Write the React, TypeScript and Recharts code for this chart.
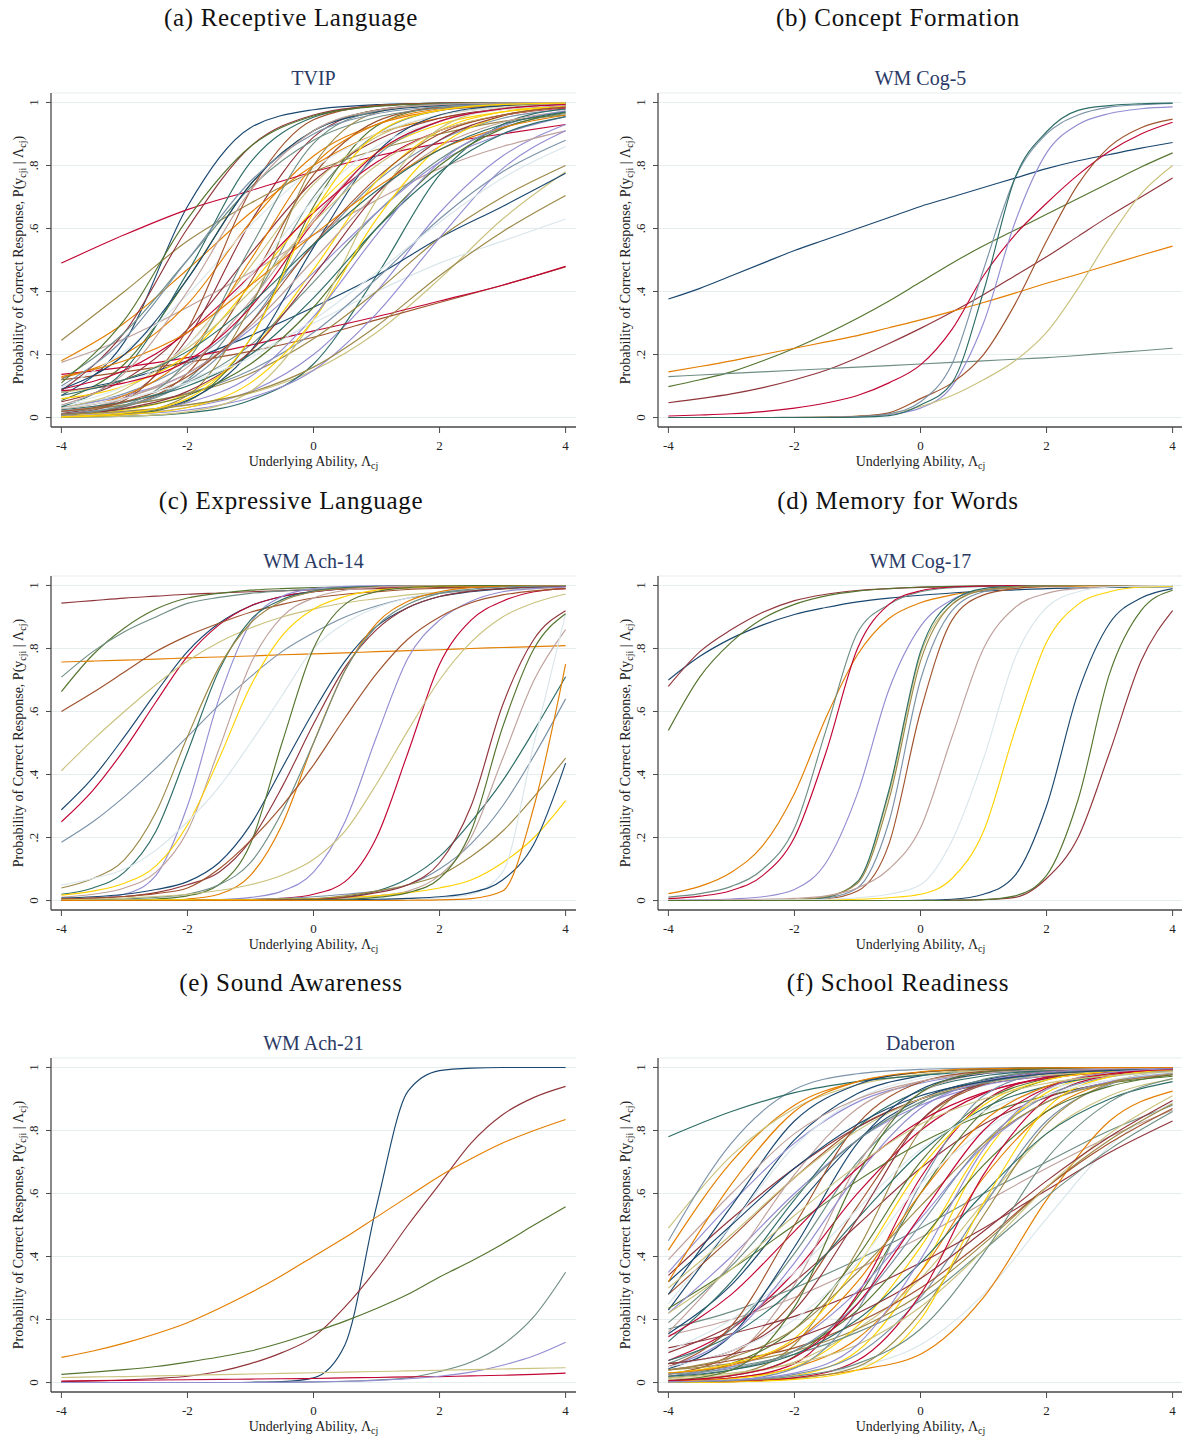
import React from "react";
import { CartesianGrid, Line, LineChart, XAxis, YAxis } from "recharts";

// ability grid the curves were read at
const GRID_UNIT = [-4, -3, -2, -1, 0, 1, 2, 3, 4];
const GRID_HALF = [-4, -3.5, -3, -2.5, -2, -1.5, -1, -0.5, 0, 0.5, 1, 1.5, 2, 2.5, 3, 3.5, 4];
const X_TICKS = [-4, -2, 0, 2, 4];
const Y_TICKS = [0, 0.2, 0.4, 0.6, 0.8, 1];

// stata s2color cycle, items take colours in order
const PALETTE = [
  "#1a476f", "#90353b", "#55752f", "#e37e00", "#6e8e84",
  "#c10534", "#938dd2", "#cac27e", "#a0522d", "#7b92a8",
  "#2d6d66", "#9c8847", "#bfa19c", "#ffd200", "#d9e6eb",
];

// (a) TVIP, read at GRID_UNIT
const tvipItems = [
  [.07, .24, .67, .92, .977, .993, .998, 1, 1],
  [.013, .063, .25, .62, .89, .976, .994, .998, 1],
  [.054, .17, .44, .74, .91, .975, .99, .997, .999],
  [.18, .3, .47, .65, .8, .9, .95, .978, .99],
  [.008, .034, .12, .36, .7, .9, .974, .99, .997],
  [.49, .58, .66, .72, .78, .83, .87, .9, .93],
  [.005, .012, .032, .083, .2, .4, .65, .83, .93],
  [.008, .018, .039, .077, .15, .27, .44, .63, .78],
  [.12, .145, .175, .21, .255, .31, .365, .42, .478],
  [.032, .076, .17, .33, .545, .75, .88, .95, .978],
  [.001, .004, .015, .055, .17, .45, .77, .93, .98],
  [.245, .4, .56, .68, .78, .85, .9, .94, .96],
  [.175, .25, .35, .46, .58, .69, .79, .86, .91],
  [.007, .024, .076, .21, .47, .75, .91, .97, .99],
  [.04, .07, .12, .2, .3, .4, .49, .56, .63],
  [.08, .12, .18, .26, .35, .45, .57, .67, .775],
  [.05, .12, .28, .52, .75, .88, .95, .98, .99],
  [.002, .009, .052, .25, .67, .925, .986, .997, .999],
  [.125, .2, .36, .62, .83, .93, .975, .99, .996],
  [.02, .047, .11, .23, .43, .65, .82, .92, .965],
  [.137, .16, .19, .23, .275, .32, .37, .42, .48],
  [.032, .07, .14, .28, .46, .65, .81, .9, .955],
  [.03, .09, .23, .48, .74, .89, .96, .985, .995],
  [.008, .036, .14, .43, .77, .94, .985, .996, .999],
  [.018, .039, .077, .15, .27, .44, .63, .78, .88],
  [.034, .15, .46, .81, .953, .99, .998, 1, 1],
  [.02, .04, .075, .14, .25, .4, .57, .7, .8],
  [.02, .06, .16, .37, .63, .84, .94, .979, .992],
  [.06, .1, .2, .42, .66, .84, .93, .97, .985],
  [.095, .21, .39, .61, .79, .9, .96, .985, .994],
  [.003, .013, .055, .21, .54, .84, .96, .99, .998],
  [.085, .27, .6, .86, .96, .99, .997, .999, 1],
  [.01, .027, .07, .17, .35, .6, .8, .917, .968],
  [.03, .07, .2, .5, .8, .93, .98, .994, .998],
  [.12, .27, .5, .73, .88, .953, .982, .993, .998],
  [.09, .15, .27, .45, .65, .81, .91, .96, .983],
  [.003, .009, .024, .063, .15, .33, .57, .79, .91],
  [.001, .004, .018, .083, .31, .69, .917, .982, .996],
  [.009, .055, .28, .72, .945, .99, .998, 1, 1],
  [.012, .038, .115, .3, .59, .83, .94, .98, .994],
  [.025, .05, .1, .2, .38, .6, .78, .9, .955],
  [.001, .01, .07, .35, .8, .968, .995, .999, 1],
  [.027, .063, .14, .29, .5, .71, .86, .937, .973],
  [.002, .009, .032, .11, .31, .63, .86, .957, .988],
  [.04, .1, .23, .45, .69, .86, .94, .977, .991],
  [.09, .2, .44, .74, .91, .97, .99, .997, .999],
  [.01, .029, .083, .21, .45, .71, .88, .957, .985],
  [.11, .31, .63, .86, .957, .987, .996, .999, 1],
  [.13, .18, .27, .42, .58, .73, .85, .92, .96],
  [.007, .039, .18, .54, .87, .973, .995, .999, 1],
  [.085, .11, .18, .35, .62, .84, .94, .98, .993],
  [.005, .016, .047, .13, .32, .58, .81, .925, .973],
  [.08, .12, .22, .4, .62, .8, .91, .96, .985],
  [.02, .05, .13, .3, .55, .76, .9, .96, .985],
  [.1, .25, .5, .75, .9, .964, .987, .995, .998],
  [.07, .12, .21, .36, .55, .72, .85, .93, .97],
  [.01, .02, .04, .08, .16, .29, .45, .59, .705],
  [.04, .14, .4, .72, .91, .975, .993, .998, 1],
  [.003, .014, .06, .25, .65, .9, .975, .994, .998],
  [.03, .06, .11, .19, .31, .46, .62, .76, .86],
];

// (b) WM Cog-5, read at GRID_HALF
const wmCog5Items = [
  [.376, .41, .45, .49, .53, .565, .6, .635, .67, .7, .73, .76, .79, .815, .835, .855, .873],
  [.047, .06, .075, .095, .12, .15, .19, .235, .283, .335, .39, .45, .51, .575, .64, .7, .76],
  [.098, .12, .145, .18, .22, .265, .315, .37, .43, .49, .545, .595, .645, .695, .745, .795, .84],
  [.145, .162, .18, .2, .22, .24, .26, .285, .31, .337, .365, .395, .426, .455, .485, .515, .544],
  [.13, .135, .14, .145, .15, .155, .16, .165, .17, .175, .18, .185, .19, .197, .205, .212, .22],
  [.005, .008, .012, .019, .03, .046, .07, .11, .167, .28, .45, .58, .68, .77, .845, .9, .937],
  [0, 0, 0, 0, .001, .002, .004, .01, .03, .1, .3, .62, .84, .93, .965, .98, .986],
  [0, 0, 0, 0, .001, .002, .005, .012, .035, .07, .12, .18, .27, .41, .57, .71, .8],
  [0, 0, 0, 0, 0, .001, .004, .015, .06, .11, .2, .36, .56, .74, .86, .92, .947],
  [0, 0, 0, 0, 0, .001, .003, .012, .05, .17, .47, .76, .9, .96, .985, .993, .997],
  [0, 0, 0, 0, 0, 0, .001, .006, .04, .11, .4, .76, .907, .975, .99, .996, .998],
];

// (c) WM Ach-14, read at GRID_HALF
const wmAch14Items = [
  [.288, .39, .52, .66, .79, .88, .935, .965, .98, .99, .994, .996, .998, .999, 1, 1, 1],
  [.944, .952, .96, .966, .972, .976, .98, .983, .986, .988, .99, .992, .993, .994, .995, .996, .997],
  [.663, .78, .865, .925, .96, .975, .985, .99, .993, .995, .997, .998, .999, 1, 1, 1, 1],
  [.757, .76, .763, .766, .77, .773, .776, .78, .783, .786, .79, .793, .796, .8, .803, .806, .809],
  [.709, .79, .853, .9, .943, .962, .975, .983, .988, .991, .994, .996, .997, .998, .999, .999, 1],
  [.25, .35, .48, .63, .775, .875, .935, .965, .98, .99, .994, .996, .998, .999, 1, 1, 1],
  [.004, .008, .02, .08, .3, .64, .88, .965, .99, .997, .999, 1, 1, 1, 1, 1, 1],
  [.412, .51, .6, .685, .76, .82, .865, .9, .925, .945, .958, .97, .978, .984, .988, .99, .992],
  [.6, .66, .725, .79, .84, .88, .915, .94, .96, .972, .98, .987, .991, .994, .996, .997, .998],
  [.185, .25, .33, .42, .52, .62, .71, .79, .85, .9, .935, .96, .975, .985, .99, .994, .996],
  [.02, .04, .09, .22, .47, .73, .89, .955, .982, .993, .997, .999, 1, 1, 1, 1, 1],
  [.04, .07, .13, .28, .52, .74, .88, .95, .98, .99, .996, .998, 1, 1, 1, 1, 1],
  [.01, .02, .04, .09, .22, .48, .75, .9, .96, .985, .994, .998, 1, 1, 1, 1, 1],
  [.017, .03, .055, .11, .24, .45, .68, .84, .925, .965, .985, .993, .997, .999, 1, 1, 1],
  [.049, .07, .1, .16, .25, .36, .5, .65, .8, .88, .93, .96, .98, .988, .993, .996, .998],
  [.008, .012, .02, .035, .06, .12, .24, .42, .6, .76, .87, .93, .965, .98, .99, .995, .997],
  [.005, .008, .013, .025, .05, .09, .19, .36, .56, .74, .86, .93, .965, .982, .99, .995, .997],
  [0, 0, .001, .005, .015, .05, .18, .5, .8, .94, .98, .993, .998, 1, 1, 1, 1],
  [0, 0, 0, .001, .005, .02, .08, .24, .5, .73, .88, .95, .98, .993, .997, .999, 1],
  [.002, .003, .005, .01, .02, .05, .12, .28, .5, .73, .87, .94, .975, .988, .995, .998, .999],
  [0, 0, 0, 0, 0, .001, .003, .007, .02, .06, .2, .47, .75, .89, .95, .98, .99],
  [0, 0, 0, 0, .001, .003, .01, .03, .09, .25, .52, .77, .89, .95, .98, .99, .995],
  [.003, .005, .008, .013, .02, .032, .05, .08, .13, .22, .37, .54, .7, .82, .9, .945, .973],
  [.005, .008, .013, .022, .04, .1, .19, .3, .43, .58, .72, .83, .9, .945, .97, .983, .99],
  [0, 0, 0, 0, .001, .002, .004, .007, .012, .02, .03, .05, .1, .18, .3, .46, .64],
  [0, 0, 0, .001, .001, .002, .003, .004, .006, .012, .03, .07, .14, .25, .38, .54, .71],
  [0, 0, .001, .001, .002, .002, .003, .004, .006, .015, .03, .05, .08, .14, .22, .33, .452],
  [0, 0, 0, 0, 0, 0, 0, .001, .003, .008, .015, .03, .08, .2, .45, .7, .86],
  [.001, .001, .001, .002, .002, .003, .003, .004, .005, .01, .015, .025, .04, .065, .12, .2, .317],
  [0, 0, 0, 0, 0, 0, 0, 0, 0, .001, .002, .005, .008, .02, .09, .5, .91],
  [0, 0, 0, 0, 0, 0, 0, 0, .001, .002, .004, .007, .012, .025, .065, .18, .436],
  [0, 0, 0, 0, 0, .001, .001, .002, .004, .01, .025, .05, .12, .3, .62, .83, .92],
  [0, 0, 0, 0, 0, 0, 0, .001, .002, .004, .01, .025, .07, .22, .55, .8, .91],
  [0, 0, 0, 0, 0, 0, 0, 0, 0, 0, 0, .001, .002, .006, .03, .3, .75],
];

// (d) WM Cog-17, read at GRID_HALF
const wmCog17Items = [
  [.7, .775, .832, .875, .908, .93, .948, .96, .969, .976, .982, .986, .99, .992, .994, .995, .996],
  [.68, .79, .86, .915, .952, .972, .984, .99, .994, .996, .998, .999, 1, 1, 1, 1, 1],
  [.54, .71, .82, .895, .94, .967, .982, .99, .995, .997, .999, 1, 1, 1, 1, 1, 1],
  [.022, .045, .09, .175, .34, .58, .78, .895, .945, .97, .984, .992, .996, .998, .999, 1, 1],
  [.011, .022, .045, .1, .23, .54, .85, .94, .98, .993, .997, .999, 1, 1, 1, 1, 1],
  [.006, .014, .032, .08, .2, .47, .8, .94, .983, .995, .998, 1, 1, 1, 1, 1, 1],
  [.001, .002, .005, .012, .035, .12, .34, .67, .87, .955, .985, .995, .998, 1, 1, 1, 1],
  [0, 0, 0, .001, .003, .012, .06, .34, .78, .94, .985, .995, .999, 1, 1, 1, 1],
  [0, 0, 0, 0, .001, .005, .03, .18, .6, .89, .97, .99, .998, 1, 1, 1, 1],
  [0, 0, 0, 0, .002, .008, .04, .25, .7, .92, .98, .995, .999, 1, 1, 1, 1],
  [0, 0, 0, 0, .002, .01, .06, .35, .79, .95, .99, .997, 1, 1, 1, 1, 1],
  [0, 0, 0, 0, .003, .012, .055, .32, .76, .94, .985, .996, .999, 1, 1, 1, 1],
  [.001, .001, .002, .004, .007, .015, .04, .1, .23, .52, .8, .93, .975, .99, .996, .998, .999],
  [0, 0, 0, 0, .001, .002, .004, .009, .02, .07, .22, .54, .82, .94, .98, .995, .998],
  [0, 0, 0, .001, .002, .004, .009, .02, .05, .19, .45, .77, .93, .98, .995, .998, 1],
  [0, 0, 0, 0, 0, 0, 0, 0, .001, .004, .02, .08, .3, .66, .88, .96, .99],
  [0, 0, 0, 0, 0, 0, 0, 0, 0, .001, .003, .01, .07, .2, .47, .76, .92],
  [0, 0, 0, 0, 0, 0, 0, 0, 0, .001, .003, .015, .08, .32, .72, .92, .985],
];

// (e) WM Ach-21, read at GRID_HALF
const wmAch21Items = [
  [0, 0, 0, 0, 0, 0, .001, .003, .015, .12, .56, .925, .99, .998, 1, 1, 1],
  [.003, .005, .008, .013, .02, .035, .06, .095, .145, .24, .36, .5, .63, .76, .85, .905, .94],
  [.026, .033, .041, .051, .065, .081, .1, .127, .16, .195, .235, .28, .335, .385, .44, .5, .558],
  [.08, .1, .125, .155, .19, .235, .285, .34, .4, .46, .525, .59, .655, .71, .76, .8, .835],
  [0, 0, 0, 0, 0, 0, 0, .001, .002, .004, .008, .015, .035, .065, .12, .21, .35],
  [.005, .006, .007, .008, .009, .01, .011, .012, .013, .015, .016, .018, .019, .021, .023, .026, .03],
  [0, 0, 0, 0, 0, 0, 0, .001, .002, .004, .007, .012, .02, .033, .055, .085, .128],
  [.016, .018, .019, .021, .023, .025, .027, .029, .031, .033, .035, .037, .039, .041, .043, .045, .047],
];

// (f) Daberon, read at GRID_UNIT
const daberonItems = [
  [.23, .5, .77, .917, .973, .992, .997, .999, 1],
  [.095, .18, .32, .5, .68, .82, .905, .953, .977],
  [.006, .022, .083, .27, .6, .86, .96, .99, .997],
  [.42, .7, .88, .955, .984, .994, .998, .999, 1],
  [.17, .225, .3, .39, .49, .6, .7, .8, .88],
  [.07, .17, .35, .6, .8, .917, .968, .988, .995],
  [.35, .57, .76, .89, .95, .98, .99, .996, .998],
  [.49, .72, .87, .945, .978, .99, .996, .998, .999],
  [.28, .46, .65, .81, .9, .955, .98, .99, .995],
  [.45, .76, .93, .98, .994, .998, 1, 1, 1],
  [.78, .86, .92, .955, .975, .985, .99, .995, .997],
  [.004, .024, .12, .42, .8, .955, .99, .998, 1],
  [.15, .2, .27, .36, .46, .57, .68, .78, .865],
  [.001, .004, .022, .1, .35, .72, .93, .985, .997],
  [.003, .008, .02, .05, .12, .28, .52, .75, .89],
  [.155, .31, .55, .77, .9, .96, .985, .994, .998],
  [.34, .52, .68, .81, .9, .946, .973, .987, .993],
  [.235, .36, .5, .64, .76, .85, .91, .95, .972],
  [.005, .015, .047, .14, .35, .65, .86, .953, .985],
  [.06, .17, .41, .7, .885, .962, .988, .996, .999],
  [.003, .014, .06, .28, .65, .89, .97, .992, .998],
  [.22, .4, .6, .77, .88, .943, .974, .988, .995],
  [.01, .025, .065, .17, .33, .57, .79, .91, .963],
  [.026, .088, .26, .56, .83, .946, .985, .995, .998],
  [.002, .007, .026, .09, .27, .56, .83, .946, .985],
  [.13, .32, .58, .81, .926, .973, .99, .996, .999],
  [.04, .06, .1, .17, .28, .44, .62, .77, .885],
  [.018, .08, .31, .69, .92, .98, .996, .999, 1],
  [.003, .012, .05, .18, .43, .75, .92, .978, .994],
  [.25, .5, .75, .9, .965, .987, .995, .998, 1],
  [.28, .56, .83, .946, .985, .995, .998, 1, 1],
  [.11, .155, .21, .285, .38, .49, .61, .73, .83],
  [.02, .06, .17, .4, .7, .89, .965, .99, .997],
  [.003, .006, .015, .04, .09, .27, .58, .83, .925],
  [.03, .05, .09, .16, .26, .42, .59, .74, .86],
  [.145, .28, .48, .68, .83, .92, .965, .985, .994],
  [.02, .05, .13, .29, .52, .75, .89, .955, .983],
  [.3, .47, .65, .8, .9, .95, .975, .988, .994],
  [.04, .07, .11, .19, .3, .45, .62, .76, .87],
  [.001, .007, .045, .23, .63, .91, .982, .996, .999],
  [.07, .15, .3, .52, .73, .87, .94, .975, .99],
  [.001, .003, .013, .05, .22, .53, .82, .95, .987],
  [.16, .38, .66, .87, .955, .985, .995, .998, 1],
  [.03, .06, .14, .37, .68, .88, .96, .987, .996],
  [.1, .2, .35, .55, .74, .86, .93, .97, .985],
  [.044, .15, .43, .76, .93, .98, .995, .999, 1],
  [.06, .1, .23, .52, .83, .95, .985, .996, .999],
  [.015, .04, .1, .23, .45, .69, .86, .94, .977],
  [.03, .055, .13, .32, .6, .83, .94, .98, .993],
  [.19, .37, .59, .77, .89, .95, .98, .99, .996],
  [.001, .003, .015, .07, .28, .66, .9, .975, .994],
  [.05, .15, .38, .66, .87, .955, .985, .995, .998],
  [.015, .03, .06, .12, .24, .42, .62, .79, .91],
  [.05, .18, .5, .82, .953, .988, .997, .999, 1],
  [.027, .045, .1, .25, .5, .76, .91, .97, .99],
  [.02, .04, .09, .2, .38, .6, .79, .9, .955],
  [.04, .08, .17, .35, .56, .76, .89, .95, .98],
  [.39, .6, .79, .9, .956, .982, .993, .997, .999],
  [0, .002, .01, .04, .2, .57, .87, .97, .993],
  [.05, .1, .2, .38, .63, .8, .91, .96, .985],
  [.32, .5, .68, .82, .91, .955, .98, .99, .995],
  [.06, .09, .14, .22, .33, .48, .64, .78, .895],
  [.005, .04, .24, .66, .92, .985, .997, 1, 1],
  [.32, .63, .86, .955, .986, .996, .999, 1, 1],
  [.002, .006, .02, .06, .17, .41, .71, .89, .965],
  [.006, .022, .08, .25, .53, .8, .935, .98, .994],
  [.002, .008, .03, .12, .39, .74, .93, .984, .996],
  [.22, .36, .53, .69, .82, .9, .95, .974, .987],
];

const AXIS = "#4a4a4a";
const TEXT = "#222";
const SERIF = '"Liberation Serif", "Times New Roman", serif';

const fmtY = (v: number) => (v === 0 ? "0" : v === 1 ? "1" : v.toFixed(1).replace(/^0/, ""));

function XTick(props: any) {
  const { x, y, payload } = props;
  return (
    <text x={x} y={y + 15} textAnchor="middle" fontSize={13} fontFamily={SERIF} fill={TEXT}>
      {payload.value}
    </text>
  );
}

function YTick(props: any) {
  const { x, y, payload } = props;
  const bx = x - 6;
  return (
    <text x={bx} y={y} transform={`rotate(-90, ${bx}, ${y})`} textAnchor="middle" fontSize={13} fontFamily={SERIF} fill={TEXT}>
      {fmtY(payload.value)}
    </text>
  );
}

type PanelProps = {
  left: number;
  top: number;
  title: string;
  subtitle: string;
  grid: number[];
  items: number[][];
};

function Panel({ left, top, title, subtitle, grid, items }: PanelProps) {
  const data = grid.map((x, i) => {
    const row: Record<string, number> = { x };
    items.forEach((item, j) => {
      row[`c${j}`] = item[i];
    });
    return row;
  });

  return (
    <div style={{ position: "absolute", left, top, width: 591, height: 483 }}>
      <LineChart width={580} height={483} data={data} margin={{ top: 93, right: 4, bottom: 26, left: 0 }}>
        <CartesianGrid vertical={false} stroke="#e5edef" strokeWidth={1} />
        <XAxis
          type="number"
          dataKey="x"
          domain={[-4.165, 4.165]}
          ticks={X_TICKS}
          allowDataOverflow
          height={30}
          tickSize={6}
          tick={<XTick />}
          axisLine={{ stroke: AXIS, strokeWidth: 1.3 }}
          tickLine={{ stroke: AXIS, strokeWidth: 1 }}
        />
        <YAxis
          type="number"
          domain={[-0.03, 1.03]}
          ticks={Y_TICKS}
          allowDataOverflow
          width={51}
          tickSize={5}
          tick={<YTick />}
          axisLine={{ stroke: AXIS, strokeWidth: 1.3 }}
          tickLine={{ stroke: AXIS, strokeWidth: 1 }}
        />
        {items.map((_, j) => (
          <Line
            key={j}
            dataKey={`c${j}`}
            type="monotone"
            stroke={PALETTE[j % PALETTE.length]}
            strokeWidth={1.15}
            dot={false}
            activeDot={false}
            isAnimationActive={false}
          />
        ))}
      </LineChart>
      <svg width={591} height={483} style={{ position: "absolute", left: 0, top: 0, pointerEvents: "none" }}>
        <text x={291} y={26} textAnchor="middle" fontSize={25} letterSpacing={0.7} fontFamily={SERIF} fill="#111">
          {title}
        </text>
        <text x={313.5} y={85} textAnchor="middle" fontSize={20} fontFamily={SERIF} fill="#2a3a66">
          {subtitle}
        </text>
        <text x={313.5} y={466} textAnchor="middle" fontSize={14} fontFamily={SERIF} fill={TEXT}>
          <tspan>Underlying Ability, Λ</tspan>
          <tspan fontSize={10} dy={3}>cj</tspan>
        </text>
        <text x={23} y={260} transform="rotate(-90, 23, 260)" textAnchor="middle" fontSize={14} fontFamily={SERIF} fill={TEXT}>
          <tspan>Probability of Correct Response, P(y</tspan>
          <tspan fontSize={10} dy={3}>cji</tspan>
          <tspan dy={-3}> | Λ</tspan>
          <tspan fontSize={10} dy={3}>cj</tspan>
          <tspan dy={-3}>)</tspan>
        </text>
      </svg>
    </div>
  );
}

export default function App() {
  return (
    <div style={{ position: "absolute", left: 0, top: 0, width: 1182, height: 1437, overflow: "hidden", background: "#fff" }}>
      <Panel left={0} top={0} title="(a) Receptive Language" subtitle="TVIP" grid={GRID_UNIT} items={tvipItems} />
      <Panel left={607} top={0} title="(b) Concept Formation" subtitle="WM Cog-5" grid={GRID_HALF} items={wmCog5Items} />
      <Panel left={0} top={483} title="(c) Expressive Language" subtitle="WM Ach-14" grid={GRID_HALF} items={wmAch14Items} />
      <Panel left={607} top={483} title="(d) Memory for Words" subtitle="WM Cog-17" grid={GRID_HALF} items={wmCog17Items} />
      <Panel left={0} top={965} title="(e) Sound Awareness" subtitle="WM Ach-21" grid={GRID_HALF} items={wmAch21Items} />
      <Panel left={607} top={965} title="(f) School Readiness" subtitle="Daberon" grid={GRID_UNIT} items={daberonItems} />
    </div>
  );
}
